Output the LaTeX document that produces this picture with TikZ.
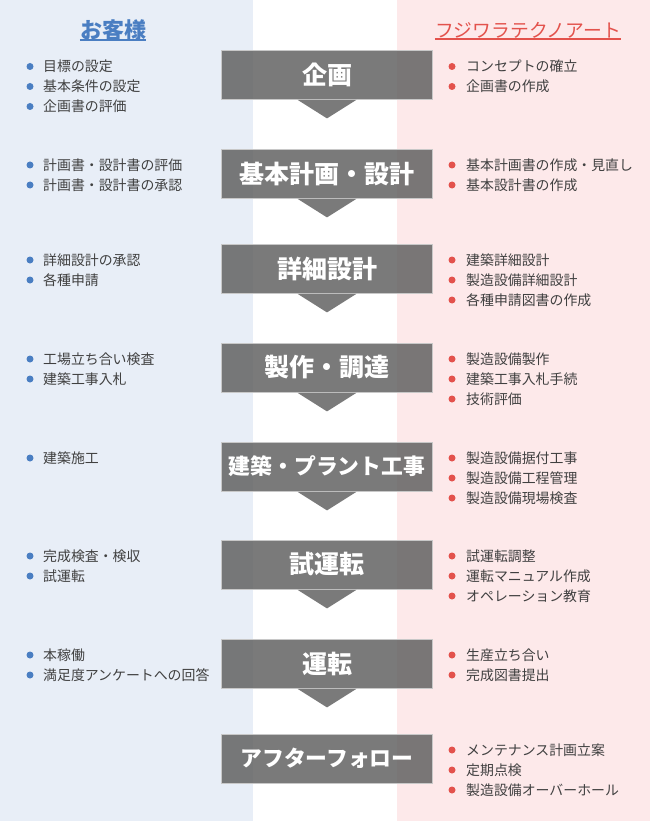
\documentclass[tikz,border=0pt]{standalone}
\usepackage{fontspec}
\setmainfont{Noto Sans CJK JP}
\definecolor{leftbg}{HTML}{E8EEF7}
\definecolor{rightbg}{HTML}{FDE9EA}
\definecolor{hblue}{HTML}{4A7EC2}
\definecolor{hred}{HTML}{E3524C}
\definecolor{boxgray}{HTML}{5F5F5F}
\definecolor{boxedge}{HTML}{C8C8C8}
\definecolor{bodytxt}{HTML}{404040}
\tikzset{
  stepbox/.style={draw=boxedge, line width=0.8pt, fill=boxgray, fill opacity=0.83, text opacity=1,
    text=white, font=\bfseries\fontsize{25}{25}\selectfont,
    minimum width=211pt, minimum height=49pt, inner sep=0pt},
  smallstep/.style={font=\bfseries\fontsize{21.8}{22}\selectfont},
  pointer/.style={fill=boxgray, fill opacity=0.83},
  itemtxt/.style={anchor=base west, inner sep=0pt, text=bodytxt, font=\fontsize{13.9}{14}\selectfont},
  lbul/.style={circle, fill=hblue, minimum size=7pt, inner sep=0pt},
  rbul/.style={circle, fill=hred, minimum size=7pt, inner sep=0pt},
}
\newcommand\litem[3]{\node[lbul] (#1b) at (30,#2) {}; \node[itemtxt] (#1) at (43,#2+5.2) {#3};}
\newcommand\ritem[3]{\node[rbul] (#1b) at (452,#2) {}; \node[itemtxt] (#1) at (466,#2+5.2) {#3};}
\newcommand\mkpointer[1]{\fill[pointer] ([xshift=-29.5pt,yshift=-0.4pt]#1.south) -- ([yshift=-19pt]#1.south) -- ([xshift=29.5pt,yshift=-0.4pt]#1.south) -- cycle;}
\begin{document}
\begin{tikzpicture}[x=1pt,y=-1pt]
\useasboundingbox (0,0) rectangle (650,821);
% panels
\fill[leftbg] (0,0) rectangle (253,821);
\fill[rightbg] (397,0) rectangle (650,821);
% headers
\node[anchor=base, inner sep=0pt, text=hblue, font=\bfseries\fontsize{22}{22}\selectfont] (hL) at (113,38.5) {お客様};
\draw[hblue, line width=1.4pt] ([yshift=-1.6pt]hL.base west) -- ([yshift=-1.6pt]hL.base east);
\node[anchor=base, inner sep=0pt, text=hred, font=\fontsize{18.8}{19}\selectfont] (hR) at (528,37.5) {フジワラテクノアート};
\draw[hred, line width=1.4pt] ([yshift=-1.6pt]hR.base west) -- ([yshift=-1.6pt]hR.base east);
% steps
\node[stepbox] (s1) at (327,74.5) {企画};
\node[stepbox] (s2) at (327,173.5) {基本計画・設計};
\node[stepbox] (s3) at (327,268.5) {詳細設計};
\node[stepbox] (s4) at (327,367.5) {製作・調達};
\node[stepbox, smallstep] (s5) at (327,466.5) {建築・プラント工事};
\node[stepbox] (s6) at (327,564.5) {試運転};
\node[stepbox] (s7) at (327,663.5) {運転};
\node[stepbox, smallstep] (s8) at (327,758.5) {アフターフォロー};
\mkpointer{s1}\mkpointer{s2}\mkpointer{s3}\mkpointer{s4}
\mkpointer{s5}\mkpointer{s6}\mkpointer{s7}
% left items
\litem{la1}{66.5}{目標の設定}
\litem{la2}{86.5}{基本条件の設定}
\litem{la3}{106.5}{企画書の評価}
\litem{lb1}{165}{計画書・設計書の評価}
\litem{lb2}{185}{計画書・設計書の承認}
\litem{lc1}{260}{詳細設計の承認}
\litem{lc2}{280}{各種申請}
\litem{ld1}{359}{工場立ち合い検査}
\litem{ld2}{379}{建築工事入札}
\litem{le1}{458}{建築施工}
\litem{lf1}{556}{完成検査・検収}
\litem{lf2}{576}{試運転}
\litem{lg1}{655}{本稼働}
\litem{lg2}{675}{満足度アンケートへの回答}
% right items
\ritem{ra1}{66.5}{コンセプトの確立}
\ritem{ra2}{86.5}{企画書の作成}
\ritem{rb1}{165}{基本計画書の作成・見直し}
\ritem{rb2}{185}{基本設計書の作成}
\ritem{rc1}{260}{建築詳細設計}
\ritem{rc2}{280}{製造設備詳細設計}
\ritem{rc3}{300}{各種申請図書の作成}
\ritem{rd1}{359}{製造設備製作}
\ritem{rd2}{379}{建築工事入札手続}
\ritem{rd3}{399}{技術評価}
\ritem{re1}{458}{製造設備据付工事}
\ritem{re2}{478}{製造設備工程管理}
\ritem{re3}{498}{製造設備現場検査}
\ritem{rf1}{556}{試運転調整}
\ritem{rf2}{576}{運転マニュアル作成}
\ritem{rf3}{596}{オペレーション教育}
\ritem{rg1}{655}{生産立ち合い}
\ritem{rg2}{675}{完成図書提出}
\ritem{rh1}{750}{メンテナンス計画立案}
\ritem{rh2}{770}{定期点検}
\ritem{rh3}{790}{製造設備オーバーホール}
\end{tikzpicture}
\end{document}
